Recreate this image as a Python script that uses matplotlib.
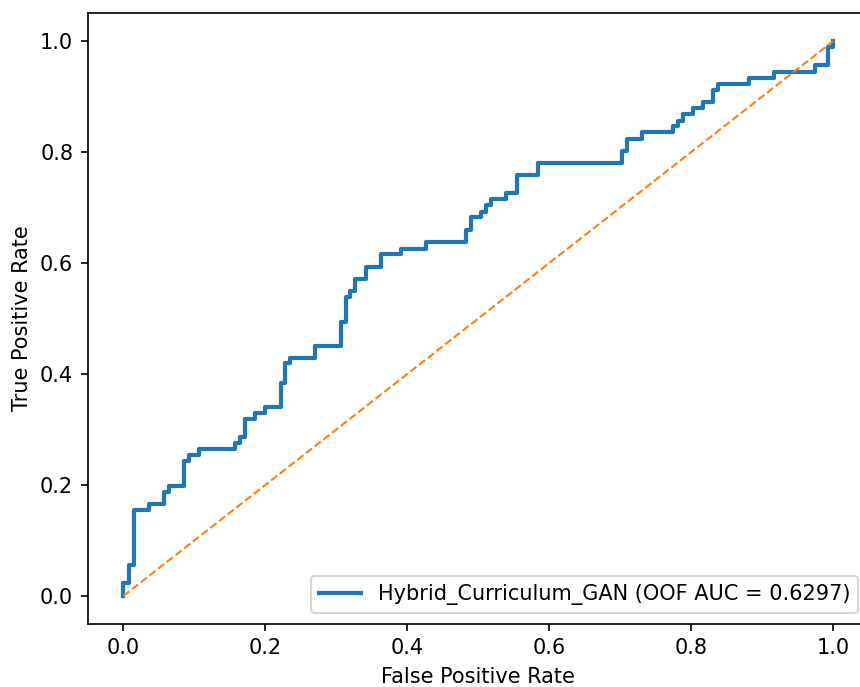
import matplotlib
matplotlib.use('Agg')
import matplotlib.pyplot as plt

# ROC corner points
fpr = [0.0, 0.0, 0.0075, 0.0075, 0.0145, 0.0145, 0.0366, 0.0366, 0.0577, 0.0577,
       0.065, 0.065, 0.086, 0.086, 0.093, 0.093, 0.107, 0.107, 0.158, 0.158,
       0.165, 0.165, 0.171, 0.171, 0.186, 0.186, 0.200, 0.200, 0.222, 0.222,
       0.228, 0.228, 0.235, 0.235, 0.270, 0.270, 0.306, 0.306, 0.313, 0.313,
       0.320, 0.320, 0.327, 0.327, 0.342, 0.342, 0.363, 0.363, 0.391, 0.391,
       0.426, 0.426, 0.483, 0.483, 0.490, 0.490, 0.504, 0.504, 0.511, 0.511,
       0.518, 0.518, 0.539, 0.539, 0.554, 0.554, 0.584, 0.584, 0.703, 0.703,
       0.709, 0.709, 0.731, 0.731, 0.774, 0.774, 0.781, 0.781, 0.788, 0.788,
       0.802, 0.802, 0.816, 0.816, 0.831, 0.831, 0.837, 0.837, 0.881, 0.881,
       0.916, 0.916, 0.974, 0.974, 0.993, 0.993, 1.0, 1.0]
tpr = [0.0, 0.024, 0.024, 0.056, 0.056, 0.155, 0.155, 0.166, 0.166, 0.187,
       0.187, 0.198, 0.198, 0.243, 0.243, 0.254, 0.254, 0.265, 0.265, 0.275,
       0.275, 0.286, 0.286, 0.319, 0.319, 0.330, 0.330, 0.341, 0.341, 0.384,
       0.384, 0.419, 0.419, 0.429, 0.429, 0.451, 0.451, 0.494, 0.494, 0.539,
       0.539, 0.550, 0.550, 0.572, 0.572, 0.593, 0.593, 0.616, 0.616, 0.626,
       0.626, 0.638, 0.638, 0.659, 0.659, 0.682, 0.682, 0.692, 0.692, 0.704,
       0.704, 0.715, 0.715, 0.726, 0.726, 0.759, 0.759, 0.780, 0.780, 0.802,
       0.802, 0.824, 0.824, 0.836, 0.836, 0.846, 0.846, 0.856, 0.856, 0.868,
       0.868, 0.879, 0.879, 0.890, 0.890, 0.912, 0.912, 0.923, 0.923, 0.933,
       0.933, 0.944, 0.944, 0.956, 0.956, 0.990, 0.990, 1.0]
auc_label = 'Hybrid_Curriculum_GAN (OOF AUC = 0.6297)'
chance = [0, 1]

fig = plt.figure(figsize=(860 / 150, 687 / 150), dpi=150)
# axes runs a little past the right edge, as in the reference crop
ax = fig.add_axes([0.1021, 0.0921, 0.9081, 0.8886])

ax.plot(fpr, tpr, color='#1f77b4', linewidth=2, label=auc_label)
ax.plot(chance, chance, color='#ff7f0e', linestyle='--', linewidth=1)

ax.set_xlabel('False Positive Rate')
ax.set_ylabel('True Positive Rate')
ax.legend(loc='lower right')

fig.savefig('out.png', dpi=150)
